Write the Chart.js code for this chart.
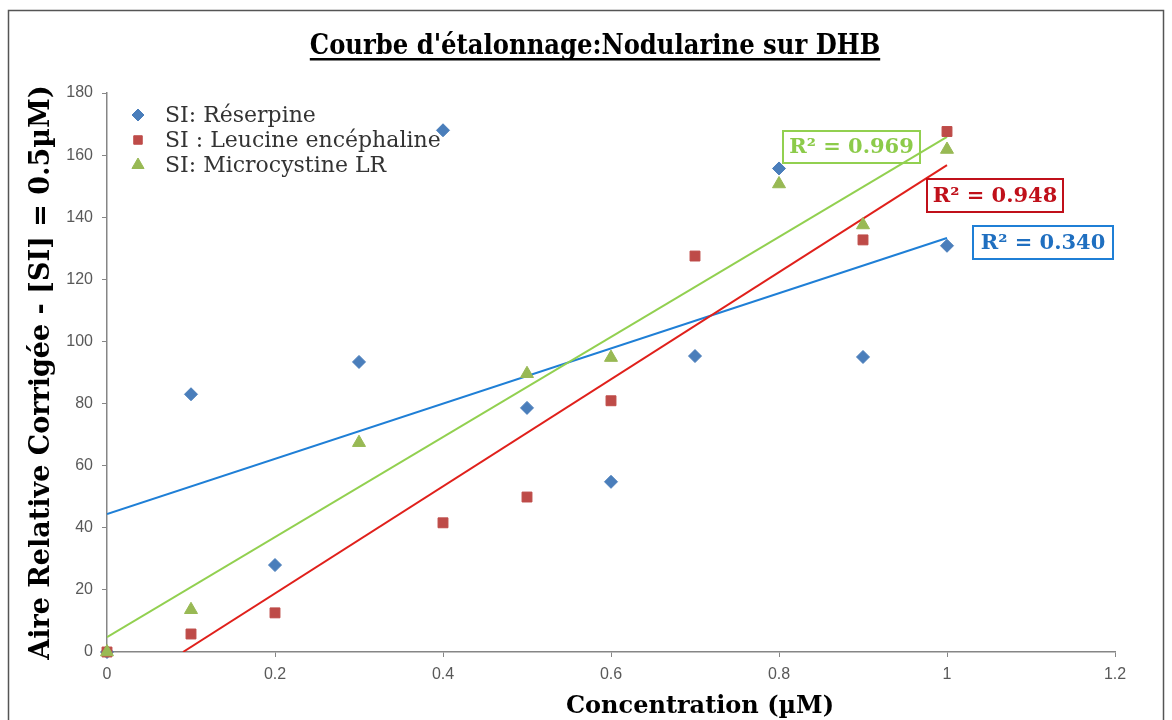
<!DOCTYPE html>
<html>
<head>
<meta charset="utf-8">
<script src="https://cdn.jsdelivr.net/npm/chart.js@4.4.1/dist/chart.umd.min.js"></script>
<style>
  html, body { margin: 0; padding: 0; background: #fff; }
  #wrap { position: relative; width: 1172px; height: 720px; }
</style>
</head>
<body>
<div id="wrap"><canvas id="chart" width="1172" height="720"></canvas></div>
<script>
// Series
const seriesNames = ['SI: Réserpine', 'SI : Leucine encéphaline', 'SI: Microcystine LR'];

const reserpineX = [0, 0.1, 0.2, 0.3, 0.4, 0.5, 0.6, 0.7, 0.8, 0.9, 1.0];
const reserpineY = [0, 83, 28, 93.4, 168, 78.6, 54.8, 95.3, 155.7, 95, 130.8];

const leucineX = [0, 0.1, 0.2, 0.4, 0.5, 0.6, 0.7, 0.9, 1.0];
const leucineY = [0, 5.8, 12.6, 41.6, 49.9, 80.9, 127.5, 132.7, 167.6];

const microX = [0, 0.1, 0.3, 0.5, 0.6, 0.8, 0.9, 1.0];
const microY = [0, 13.6, 67.4, 89.6, 94.8, 150.7, 137.5, 161.8];

// Linear trend lines (end points as drawn)
const reserpineTrendX = [0, 1.0];
const reserpineTrendY = [44.4, 133.3];
const leucineTrendX = [0.0905, 1.0];
const leucineTrendY = [0, 156.8];
const microTrendX = [0, 1.0];
const microTrendY = [4.8, 165.9];

const r2Labels = ['R² = 0.340', 'R² = 0.948', 'R² = 0.969'];

const xTicks = [0, 0.2, 0.4, 0.6, 0.8, 1.0, 1.2];
const yTicks = [0, 20, 40, 60, 80, 100, 120, 140, 160, 180];

const colors = {
    blue: '#4A7EBB',
    red: '#BE4B48',
    green: '#98B954',
    blueLine: '#1F7FD6',
    redLine: '#E0201B',
    greenLine: '#92D050',
    blueText: '#1F6FC0',
    redText: '#C0101A',
    greenText: '#8CCB4A',
    axis: '#868686',
    tick: '#595959',
};

const toPoints = (xs, ys) => xs.map((x, i) => ({ x, y: ys[i] }));

function trend(xs, ys, color, order) {
    return {
        type: 'line',
        data: toPoints(xs, ys),
        borderColor: color,
        borderWidth: 2,
        pointRadius: 0,
        fill: false,
        showLine: true,
        order,
    };
}

// Frame, titles, legend and R² boxes
const decorations = {
    id: 'decorations',
    beforeDraw(chart) {
        const ctx = chart.ctx;
        ctx.save();
        ctx.fillStyle = '#fff';
        ctx.fillRect(0, 0, chart.width, chart.height);
        ctx.strokeStyle = '#555';
        ctx.lineWidth = 1.5;
        ctx.strokeRect(8.5, 10.5, 1155, 740);
        ctx.restore();
    },
    afterDraw(chart) {
        const ctx = chart.ctx;
        ctx.save();

        // title, underlined
        const title = "Courbe d'étalonnage:Nodularine sur DHB";
        ctx.font = 'bold 27px "DejaVu Serif"';
        if ('fontStretch' in ctx) ctx.fontStretch = 'condensed';
        ctx.fillStyle = '#000';
        ctx.textAlign = 'center';
        ctx.textBaseline = 'alphabetic';
        ctx.fillText(title, 595, 54);
        const w = ctx.measureText(title).width;
        ctx.fillRect(595 - w / 2, 58, w, 2.5);
        if ('fontStretch' in ctx) ctx.fontStretch = 'normal';

        // x axis title (sits right of the axis centre in the reference)
        ctx.font = 'bold 24px "DejaVu Serif"';
        ctx.fillText('Concentration (µM)', 700, 713);

        // legend
        const rows = [
            { style: 'rectRot', color: colors.blue, radius: 6 },
            { style: 'rect', color: colors.red, radius: 6 },
            { style: 'triangle', color: colors.green, radius: 7 },
        ];
        ctx.font = '22px "DejaVu Serif"';
        ctx.textAlign = 'left';
        ctx.textBaseline = 'middle';
        rows.forEach((r, i) => {
            const y = 115 + i * 25;
            ctx.fillStyle = r.color;
            ctx.strokeStyle = r.color;
            Chart.helpers.drawPoint(ctx, { pointStyle: r.style, radius: r.radius, borderWidth: 1, rotation: 0 }, 138, y);
            ctx.fillStyle = '#333';
            ctx.fillText(seriesNames[i], 165, y + 1);
        });

        // R² boxes (no fill, lines show through)
        const boxes = [
            { text: r2Labels[2], x: 783, y: 131, w: 137, h: 32, c: colors.greenText, b: colors.greenLine },
            { text: r2Labels[1], x: 927, y: 179, w: 136, h: 33, c: colors.redText, b: colors.redText },
            { text: r2Labels[0], x: 973, y: 226, w: 140, h: 33, c: colors.blueText, b: colors.blueLine },
        ];
        ctx.font = 'bold 21px "DejaVu Serif"';
        ctx.textAlign = 'center';
        boxes.forEach(bx => {
            ctx.strokeStyle = bx.b;
            ctx.lineWidth = 2;
            ctx.strokeRect(bx.x, bx.y, bx.w, bx.h);
            ctx.fillStyle = bx.c;
            ctx.fillText(bx.text, bx.x + bx.w / 2, bx.y + bx.h / 2 + 1);
        });
        ctx.restore();
    }
};

new Chart(document.getElementById('chart'), {
    type: 'scatter',
    data: {
        datasets: [
            trend(microTrendX, microTrendY, colors.greenLine, 4),
            trend(leucineTrendX, leucineTrendY, colors.redLine, 5),
            trend(reserpineTrendX, reserpineTrendY, colors.blueLine, 6),
            {
                label: seriesNames[2],
                data: toPoints(microX, microY),
                pointStyle: 'triangle',
                pointRadius: 7.5,
                backgroundColor: colors.green,
                borderColor: colors.green,
                clip: false,
                order: 1,
            },
            {
                label: seriesNames[1],
                data: toPoints(leucineX, leucineY),
                pointStyle: 'rect',
                pointRadius: 7,
                backgroundColor: colors.red,
                borderColor: colors.red,
                clip: false,
                order: 2,
            },
            {
                label: seriesNames[0],
                data: toPoints(reserpineX, reserpineY),
                pointStyle: 'rectRot',
                pointRadius: 6.5,
                backgroundColor: colors.blue,
                borderColor: colors.blue,
                clip: false,
                order: 3,
            },
        ]
    },
    options: {
        responsive: false,
        animation: false,
        devicePixelRatio: 1,
        layout: { padding: { top: 93, right: 57, bottom: 0, left: 0 } },
        plugins: {
            legend: { display: false },
            tooltip: { enabled: false },
            title: { display: false },
        },
        scales: {
            x: {
                type: 'linear',
                min: 0,
                max: 1.2,
                afterBuildTicks: s => { s.ticks = xTicks.map(v => ({ value: v })); },
                afterFit: s => { s.height = 68; },
                grid: { drawOnChartArea: false, tickLength: 5, color: colors.axis },
                border: { color: colors.axis, width: 1.5 },
                ticks: {
                    color: colors.tick,
                    font: { family: 'Liberation Sans', size: 16 },
                    padding: 8,
                    maxRotation: 0,
                    callback: v => String(Number(v.toFixed(1))),
                },
            },
            y: {
                min: 0,
                max: 180,
                afterBuildTicks: s => { s.ticks = yTicks.map(v => ({ value: v })); },
                afterFit: s => { s.width = 107; },
                grid: { drawOnChartArea: false, tickLength: 5, color: colors.axis },
                border: { color: colors.axis, width: 1.5 },
                ticks: {
                    color: colors.tick,
                    font: { family: 'Liberation Sans', size: 16 },
                    padding: 9,
                },
                title: {
                    display: true,
                    text: 'Aire Relative Corrigée - [SI] = 0.5µM)',
                    color: '#000',
                    font: { family: 'DejaVu Serif', size: 27, weight: 'bold' },
                    padding: { top: 26, bottom: 0 },
                },
            },
        },
    },
    plugins: [decorations],
});
</script>
</body>
</html>
